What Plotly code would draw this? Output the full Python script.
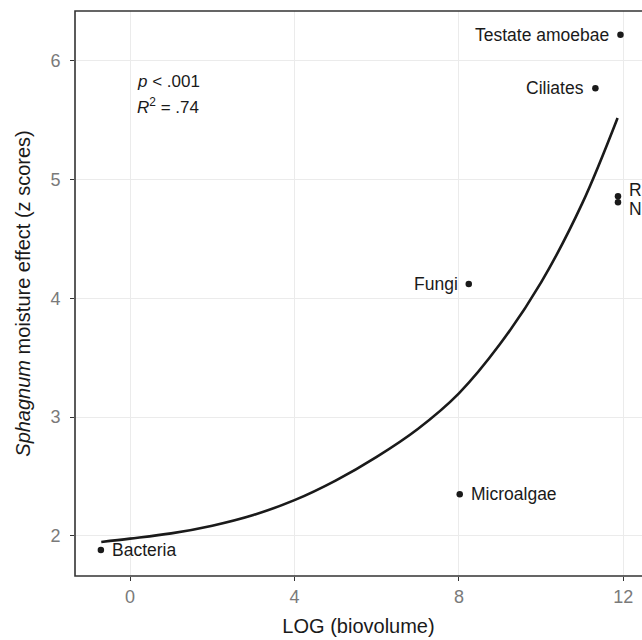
import plotly.graph_objects as go

# Taxa points
taxa = ["Bacteria", "Microalgae", "Fungi", "Ciliates", "Testate amoebae", "R", "N"]
log_biovolume = [-0.71, 8.02, 8.24, 11.32, 11.93, 11.87, 11.87]
moisture_effect = [1.88, 2.35, 4.12, 5.77, 6.22, 4.86, 4.81]
label_side = ["right", "right", "left", "left", "left", "right", "right"]
label_dy = [0, 0, 0, 0, 0, -6.5, 6.5]

# Fitted curve
fit_x = [-0.70, 0.0, 1.0, 2.0, 3.0, 4.0, 5.0, 6.0, 7.0, 8.0, 9.0, 10.0, 11.0, 11.86]
fit_y = [1.948, 1.976, 2.02, 2.085, 2.175, 2.30, 2.465, 2.665, 2.90, 3.20, 3.615,
         4.135, 4.80, 5.52]

x_ticks = [0, 4, 8, 12]
y_ticks = [2, 3, 4, 5, 6]

FONT = "Liberation Sans, Arial, sans-serif"

fig = go.Figure()
fig.add_trace(go.Scatter(x=fit_x, y=fit_y, mode="lines", line_shape="spline",
                         line=dict(color="#1a1a1a", width=2.6, smoothing=1.0),
                         hoverinfo="skip"))
fig.add_trace(go.Scatter(x=log_biovolume, y=moisture_effect, mode="markers",
                         marker=dict(color="#1a1a1a", size=6.5), hoverinfo="skip"))

for name, x, y, side, dy in zip(taxa, log_biovolume, moisture_effect, label_side, label_dy):
    fig.add_annotation(x=x, y=y, text=name, showarrow=False,
                       xanchor="left" if side == "right" else "right",
                       xshift=9 if side == "right" else -9, yshift=-dy,
                       font=dict(family=FONT, size=17.5, color="#1a1a1a"))

fig.add_annotation(x=0.13, y=5.83, text="<i>p</i> < .001", showarrow=False,
                   xanchor="left", yanchor="middle",
                   font=dict(family=FONT, size=17, color="#1a1a1a"))
fig.add_annotation(x=0.13, y=5.62, text="<i>R</i><sup>2</sup> = .74", showarrow=False,
                   xanchor="left", yanchor="middle",
                   font=dict(family=FONT, size=17, color="#1a1a1a"))

# panel border (right edge falls outside the page)
fig.add_shape(type="rect", xref="paper", yref="paper", x0=0, x1=1.05, y0=0, y1=1,
              line=dict(color="#333333", width=1.6), fillcolor="rgba(0,0,0,0)")

axis_common = dict(showgrid=True, gridcolor="#ebebeb", gridwidth=1.1, zeroline=False,
                   showline=False, ticks="outside", ticklen=4, tickwidth=1.1,
                   tickcolor="#333333", automargin=False,
                   tickfont=dict(family=FONT, size=18, color="#7a7a7a"))

fig.update_xaxes(range=[-1.339, 12.454], tickvals=x_ticks, ticktext=[str(t) for t in x_ticks],
                 title=dict(text="LOG (biovolume)", font=dict(family=FONT, size=20, color="#1a1a1a"),
                            standoff=13),
                 **axis_common)
fig.update_yaxes(range=[1.661, 6.421], tickvals=y_ticks, ticktext=[str(t) for t in y_ticks],
                 ticklabelstandoff=6,
                 title=dict(text="<i>Sphagnum</i> moisture effect (z scores)",
                            font=dict(family=FONT, size=20, color="#1a1a1a"), standoff=14),
                 **axis_common)

fig.update_layout(width=642, height=640, showlegend=False,
                  margin=dict(l=75, r=0, t=11, b=64, autoexpand=False),
                  plot_bgcolor="white", paper_bgcolor="white")

fig.write_html("out.html", config={"displayModeBar": False},
               post_script="document.body.style.margin='0';")
